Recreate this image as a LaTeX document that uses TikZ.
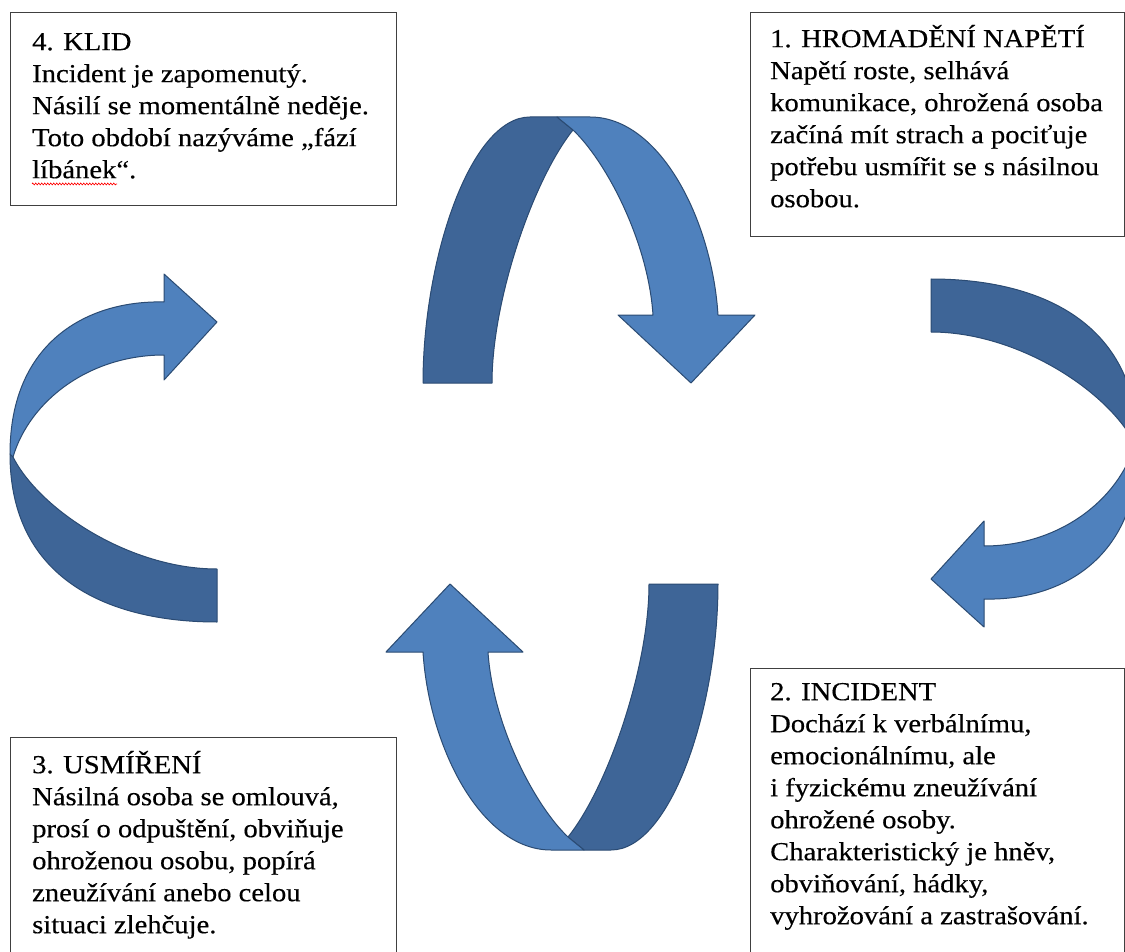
\documentclass[tikz,border=0pt]{standalone}
\usepackage{fontspec}
\setmainfont{Liberation Serif}[FakeStretch=1.1,FakeBold=0.35]
\usetikzlibrary{decorations.pathmorphing}
\definecolor{lightb}{HTML}{4F81BD}
\definecolor{darkb}{HTML}{3E6597}
\definecolor{edgeb}{HTML}{2B4B73}
\definecolor{boxline}{HTML}{404040}
\newcommand\ArchArrowShape{%
  \draw[back] (423,383) -- (492,383) .. controls (492,300) and (533,180) .. (573,130)
    -- (557,117) -- (530,117) .. controls (470,117) and (423,260) .. (423,383) -- cycle;
  \draw[front] (557,117) -- (590,117) .. controls (660,117) and (712,220) .. (718,315)
    -- (755,315) -- (691,383) -- (618,315) -- (653,315)
    .. controls (648,240) and (605,160) .. (573,130) -- cycle;
}
\newcommand\HookArrowShape{%
  \draw[back] (217,622) -- (217,569) .. controls (130,569) and (40,510) .. (13,457)
    -- (10,454) .. controls (10,580) and (110,622) .. (217,622) -- cycle;
  \draw[front] (10,454) .. controls (10,340) and (90,300) .. (164,302)
    -- (164,274) -- (217,322) -- (164,380) -- (164,355)
    .. controls (90,355) and (30,400) .. (13,457) -- cycle;
}
\begin{document}
\begin{tikzpicture}[x=1pt,y=-1pt,
  box/.style={draw=boxline, line width=1.3pt, rectangle, inner sep=0pt, anchor=north west},
  txt/.style={inner sep=0pt, anchor=north west, align=left, font=\fontsize{26}{32}\selectfont},
  band/.style={draw=edgeb, line width=1pt, line join=round},
  back/.style={band, fill=darkb},
  front/.style={band, fill=lightb}]
\useasboundingbox[fill=white] (0,0) rectangle (1125,952);

% arrows
\ArchArrowShape
\begin{scope}[rotate around={180:(570.5,483.5)}]
  \ArchArrowShape
\end{scope}
\HookArrowShape
\begin{scope}[rotate around={180:(574,450.5)}]
  \HookArrowShape
\end{scope}

% boxes
\node[box, minimum width=386pt, minimum height=193pt] (b4) at (10,12) {};
\node[box, minimum width=374pt, minimum height=224pt] (b1) at (750,12) {};
\node[box, minimum width=374pt, minimum height=300pt] (b2) at (750,668) {};
\node[box, minimum width=386pt, minimum height=230pt] (b3) at (10,737) {};

% texts
\node[txt] (t4) at (32,25) {\rule{0pt}{25pt}4. KLID\\Incident je zapomenutý.\\Násilí se momentálně neděje.\\Toto období nazýváme „fází\\líbánek“.};
\node[txt] (t1) at (770,22) {\rule{0pt}{25pt}1. HROMADĚNÍ NAPĚTÍ\\Napětí roste, selhává\\komunikace, ohrožená osoba\\začíná mít strach a pociťuje\\potřebu usmířit se s násilnou\\osobou.};
\node[txt] (t2) at (770,675) {\rule{0pt}{25pt}2. INCIDENT\\Dochází k verbálnímu,\\emocionálnímu, ale\\i fyzickému zneužívání\\ohrožené osoby.\\Charakteristický je hněv,\\obviňování, hádky,\\vyhrožování a zastrašování.};
\node[txt] (t3) at (32,748) {\rule{0pt}{25pt}3. USMÍŘENÍ\\Násilná osoba se omlouvá,\\prosí o odpuštění, obviňuje\\ohroženou osobu, popírá\\zneužívání anebo celou\\situaci zlehčuje.};

% spell-check wave under "líbánek"
\coordinate (w1) at (32,184);
\coordinate (w2) at (117,184);
\draw[red, line width=0.6pt, decorate, decoration={zigzag, segment length=3pt, amplitude=1pt}] (w1) -- (w2);
\end{tikzpicture}
\end{document}
